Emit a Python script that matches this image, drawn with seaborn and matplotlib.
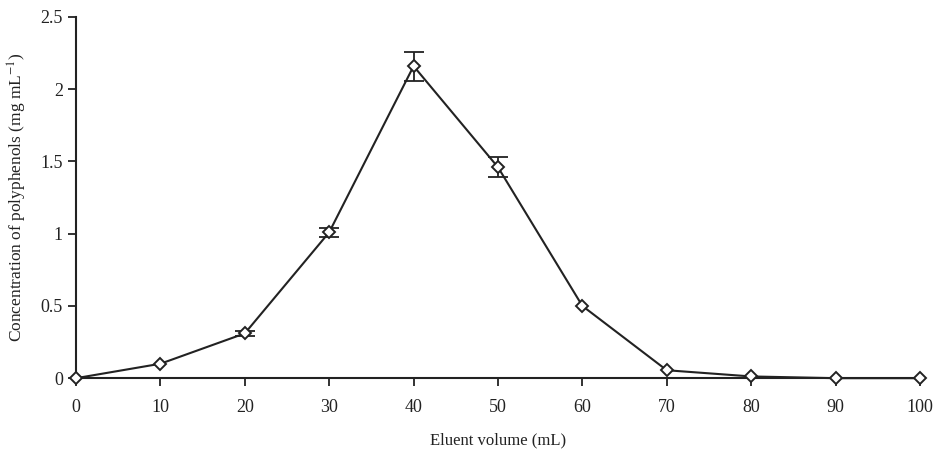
import numpy as np
import pandas as pd
import seaborn as sns
import matplotlib.pyplot as plt

# data
volume = [0, 10, 20, 30, 40, 50, 60, 70, 80, 90, 100]
conc = [0.0, 0.10, 0.31, 1.01, 2.16, 1.46, 0.50, 0.055, 0.012, 0.0, 0.0]
err = [0.0, 0.0, 0.015, 0.03, 0.10, 0.07, 0.0, 0.0, 0.0, 0.0, 0.0]
y_ticks = [0, 0.5, 1, 1.5, 2, 2.5]
y_labels = ["0", "0.5", "1", "1.5", "2", "2.5"]
x_ticks = [0, 10, 20, 30, 40, 50, 60, 70, 80, 90, 100]

df = pd.DataFrame({"volume": volume, "conc": conc, "err": err})

sns.set_style("ticks")
plt.rcParams["font.family"] = ["Liberation Serif", "DejaVu Serif"]
plt.rcParams["mathtext.fontset"] = "stix"

fig = plt.figure(figsize=(9.33, 4.54), dpi=100)
ax = fig.add_axes([0.0815, 0.167, 0.9045, 0.7956])

#error bars only where there is an error, then line and markers on top
eb = df[df["err"] > 0]
ax.errorbar(eb["volume"], eb["conc"], yerr=eb["err"], fmt="none",
            ecolor="#222222", elinewidth=1.3, capsize=7, capthick=1.3, zorder=2)
sns.lineplot(data=df, x="volume", y="conc", ax=ax, color="#222222", linewidth=1.5,
             marker="D", markersize=6.5, markerfacecolor="white",
             markeredgecolor="#222222", markeredgewidth=1.4, clip_on=False, zorder=3)

ax.set_xlim(0, 100)
ax.set_ylim(0, 2.5)
ax.set_xticks(x_ticks)
ax.set_yticks(y_ticks)
ax.set_yticklabels(y_labels)
ax.tick_params(axis="both", labelsize=13, length=6, width=1.3, color="#222222",
               labelcolor="#222222")
ax.tick_params(axis="x", pad=9)
for s in ["left", "bottom"]:
    ax.spines[s].set_linewidth(1.5)
    ax.spines[s].set_color("#222222")
sns.despine(ax=ax)

ax.set_xlabel("Eluent volume (mL)", fontsize=12, labelpad=12, color="#222222")
ax.set_ylabel("Concentration of polyphenols (mg mL$^{-1}$)", fontsize=12.5,
              labelpad=8, color="#222222")

plt.savefig("out.png", dpi=100)
